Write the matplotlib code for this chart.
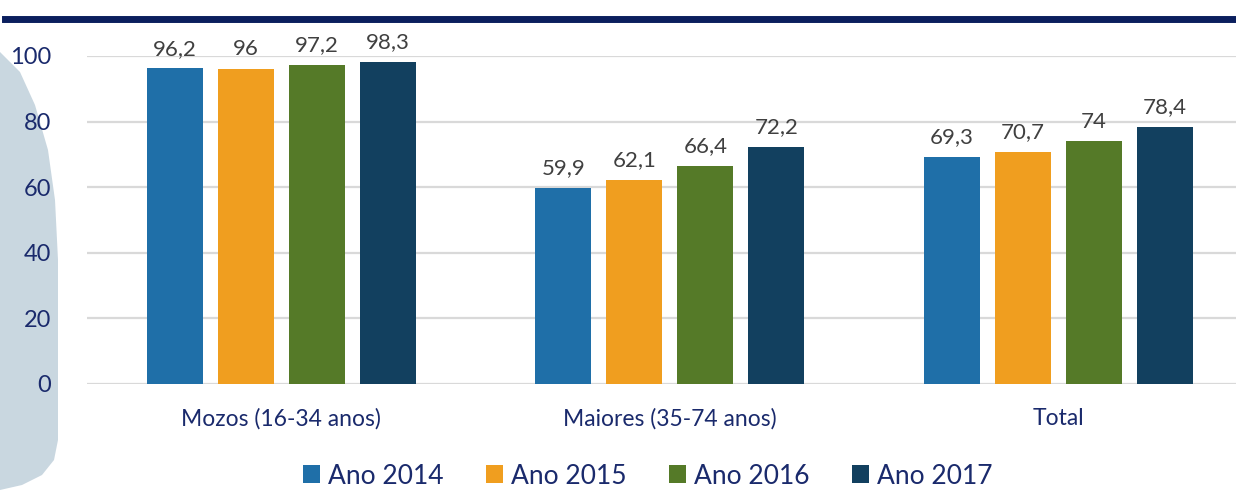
import matplotlib
matplotlib.use("Agg")
import matplotlib.pyplot as plt
from matplotlib.patches import Polygon
import numpy as np

# datos
categorias = ["Mozos (16-34 anos)", "Maiores (35-74 anos)", "Total"]
anos = ["Ano 2014", "Ano 2015", "Ano 2016", "Ano 2017"]
ano_2014 = [96.2, 59.9, 69.3]
ano_2015 = [96.0, 62.1, 70.7]
ano_2016 = [97.2, 66.4, 74.0]
ano_2017 = [98.3, 72.2, 78.4]
series = [ano_2014, ano_2015, ano_2016, ano_2017]
cores = ["#1f6fa8", "#f09e1f", "#557a28", "#12405f"]

plt.rcParams['font.family'] = ['Lato', 'DejaVu Sans']

W, H = 1236, 490
fig = plt.figure(figsize=(W / 100, H / 100), dpi=100)

# fondo azul claro a esquerda
pts = [(0, 52), (20, 72), (35, 105), (48, 150), (55, 200), (58, 260), (58, 440),
       (54, 460), (42, 475), (22, 485), (0, 490)]
fondo = Polygon([(x / W, 1 - y / H) for x, y in pts], closed=True,
                transform=fig.transFigure, facecolor="#c9d7e0", edgecolor="none", zorder=-1)
fig.patches.append(fondo)

# liña superior
fig.add_artist(plt.Line2D([5 / W, 1], [1 - 19 / H, 1 - 19 / H], transform=fig.transFigure,
                          color="#0b1f5e", lw=5, zorder=1))

ax = fig.add_axes([87 / W, 1 - 384 / H, 1 - 87 / W, (384 - 56) / H])
ax.patch.set_alpha(0)

x = np.arange(len(categorias))
ancho = 0.144
paso = 0.1828
for i, (vals, cor, nome) in enumerate(zip(series, cores, anos)):
    pos = x + (i - 1.5) * paso
    barras = ax.bar(pos, vals, ancho, color=cor, label=nome, zorder=3)
    for b, v in zip(barras, vals):
        txt = f"{v:g}".replace(".", ",")
        ax.annotate(txt, (b.get_x() + b.get_width() / 2, v), xytext=(0, 7),
                    textcoords="offset points", ha="center", va="bottom",
                    fontsize=16, color="#404040", clip_on=False)

ax.set_ylim(0, 100)
ax.set_xlim(-0.5, (W - 281.5) / 388.5)
ax.set_yticks(range(0, 101, 20))
ax.set_xticks(x)
ax.set_xticklabels(categorias, fontsize=16.5, color="#1a2a6c")
ax.tick_params(axis="y", labelsize=17, labelcolor="#1a2a6c", length=0, pad=26)
ax.tick_params(axis="x", length=0, pad=17)
ax.grid(axis="y", color="#d9d9d9", lw=1.6, zorder=0)
for s in ax.spines.values():
    s.set_visible(False)

fig.legend(loc="center", bbox_to_anchor=(0.524, 1 - 476 / H), ncol=4, frameon=False,
           fontsize=19, handlelength=0.65, handleheight=0.65, handletextpad=0.3,
           columnspacing=1.6, labelcolor="#1a2a6c")

fig.savefig("out.png", dpi=100)
